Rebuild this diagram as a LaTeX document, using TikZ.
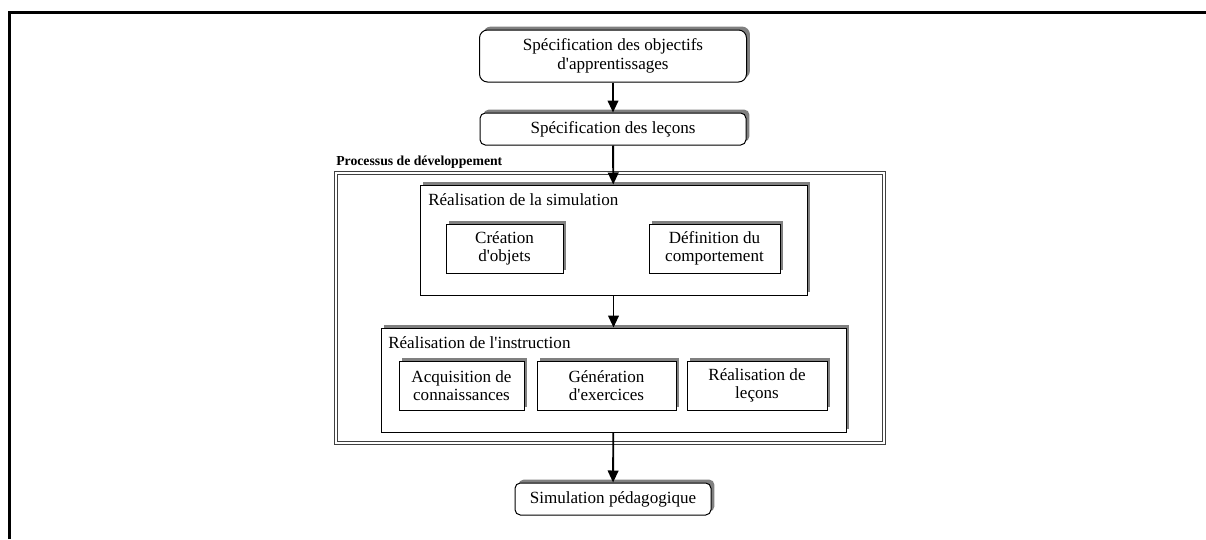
\documentclass[tikz,border=0pt]{standalone}
\usepackage{fontspec}
\setmainfont{Liberation Serif}
\usepackage{tikz}
\usetikzlibrary{arrows.meta}
\usetikzlibrary{shadows}

\newcommand{\apos}{\textquotesingle}

\tikzset{
  px/.style 2 args={minimum width=#1*0.75pt, minimum height=#2*0.75pt},
  txt/.style={font=\fontsize{12.8}{13.8}\selectfont},
  sbox/.style={draw, fill=white, line width=0.75pt, inner sep=0pt, align=center, txt,
    general shadow={fill=gray, shadow xshift=2.6pt, shadow yshift=2.6pt}},
  rbox/.style={sbox, rounded corners=6pt},
  flow/.style={-{Triangle[width=8pt,length=9pt]}, line width=1.4pt},
}

\begin{document}
\begin{tikzpicture}[x=0.75pt, y=-0.75pt]
\useasboundingbox (0,0) rectangle (1206,539);

% page frame
\draw[line width=2.25pt] (9,539) -- (9,12) -- (1206,12);

% outer frame
\draw (610, 308)
  node[draw=black!75, double, double distance=1.5pt, line width=0.65pt,
       px={548}{270}, inner sep=0pt] (dev) {};
\draw (336, 165) node[anchor=base west, inner sep=0pt,
       font=\fontsize{10.3}{12}\selectfont\bfseries] (devt) {Processus de développement};

% top boxes
\draw (613, 56) node[rbox, px={267}{52}] (obj) {Spécification des objectifs\\d\apos apprentissages};
\draw (613, 129) node[rbox, rounded corners=4pt, px={266}{32}] (lec) {Spécification des leçons};

% simulation
\draw (613.5, 240) node[sbox, px={387}{110}] (sim) {};
\draw (428, 205) node[anchor=base west, inner sep=0pt, txt] (simt) {Réalisation de la simulation};
\draw (504.5, 248.5) node[sbox, px={117}{49}] (obj2) {Création\\d\apos objets};
\draw (714.5, 248.5) node[sbox, px={131}{49}] (comp) {Définition du\\comportement};

% instruction
\draw (613.5, 380) node[sbox, px={465}{104}] (ins) {};
\draw (388, 348) node[anchor=base west, inner sep=0pt, txt] (inst) {Réalisation de l\apos instruction};
\draw (461.5, 385.5) node[sbox, px={125}{49}] (acq) {Acquisition de\\connaissances};
\draw (606.5, 385.5) node[sbox, px={139}{49}] (gen) {Génération\\d\apos exercices};
\draw (757, 385.5) node[sbox, px={140}{49}] (rea) {Réalisation de\\leçons};

% result
\draw (613, 499) node[rbox, rounded corners=4pt, px={196}{32}] (ped) {Simulation pédagogique};

% arrows
\draw[flow] (obj) -- (lec);
\draw[flow] (lec) -- (sim);
\draw[flow] (sim) -- (ins);
\draw[flow] (ins) -- (ped);
\end{tikzpicture}
\end{document}
